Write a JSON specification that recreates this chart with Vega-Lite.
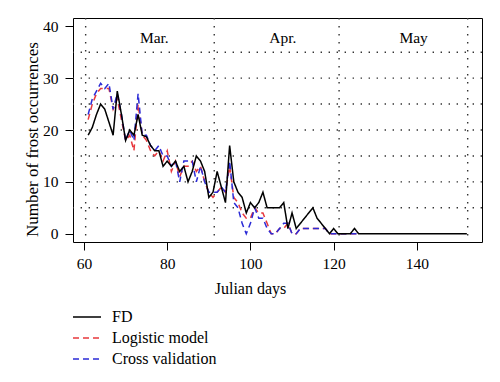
{
  "$schema": "https://vega.github.io/schema/vega-lite/v6.json",
  "width": 409,
  "height": 224,
  "autosize": "none",
  "padding": {"left": 73, "top": 18, "right": 18, "bottom": 140},
  "background": "white",
  "config": {
    "font": "Liberation Serif",
    "view": {"stroke": "black", "strokeWidth": 1}
  },
  "datasets": {
    "frost": [
      {"day": 61, "FD": 19, "Logistic model": 22, "Cross validation": 23},
      {"day": 62, "FD": 20.5, "Logistic model": 25, "Cross validation": 26},
      {"day": 63, "FD": 23, "Logistic model": 27, "Cross validation": 27.5},
      {"day": 64, "FD": 25, "Logistic model": 28, "Cross validation": 29},
      {"day": 65, "FD": 24, "Logistic model": 28, "Cross validation": 28},
      {"day": 66, "FD": 21.5, "Logistic model": 28, "Cross validation": 29},
      {"day": 67, "FD": 19, "Logistic model": 24, "Cross validation": 24},
      {"day": 68, "FD": 27.5, "Logistic model": 26, "Cross validation": 27},
      {"day": 69, "FD": 23, "Logistic model": 22, "Cross validation": 23},
      {"day": 70, "FD": 18, "Logistic model": 18, "Cross validation": 18},
      {"day": 71, "FD": 20, "Logistic model": 19, "Cross validation": 20},
      {"day": 72, "FD": 19, "Logistic model": 16, "Cross validation": 18},
      {"day": 73, "FD": 23, "Logistic model": 25, "Cross validation": 27},
      {"day": 74, "FD": 19, "Logistic model": 19, "Cross validation": 19},
      {"day": 75, "FD": 18.7, "Logistic model": 18, "Cross validation": 19},
      {"day": 76, "FD": 17, "Logistic model": 16, "Cross validation": 17},
      {"day": 77, "FD": 16, "Logistic model": 15, "Cross validation": 16},
      {"day": 78, "FD": 16, "Logistic model": 16, "Cross validation": 17},
      {"day": 79, "FD": 13, "Logistic model": 14, "Cross validation": 15},
      {"day": 80, "FD": 14, "Logistic model": 16, "Cross validation": 15},
      {"day": 81, "FD": 13, "Logistic model": 12, "Cross validation": 13},
      {"day": 82, "FD": 14, "Logistic model": 14, "Cross validation": 14},
      {"day": 83, "FD": 12, "Logistic model": 11, "Cross validation": 10},
      {"day": 84, "FD": 13, "Logistic model": 13, "Cross validation": 14},
      {"day": 85, "FD": 10, "Logistic model": 13, "Cross validation": 14},
      {"day": 86, "FD": 12, "Logistic model": 14, "Cross validation": 14},
      {"day": 87, "FD": 15, "Logistic model": 12, "Cross validation": 10},
      {"day": 88, "FD": 14, "Logistic model": 13, "Cross validation": 13},
      {"day": 89, "FD": 12, "Logistic model": 10, "Cross validation": 10},
      {"day": 90, "FD": 7, "Logistic model": 8, "Cross validation": 8},
      {"day": 91, "FD": 8, "Logistic model": 7, "Cross validation": 8},
      {"day": 92, "FD": 12, "Logistic model": 8, "Cross validation": 8},
      {"day": 93, "FD": 9, "Logistic model": 9, "Cross validation": 9},
      {"day": 94, "FD": 6, "Logistic model": 8, "Cross validation": 8},
      {"day": 95, "FD": 17, "Logistic model": 13, "Cross validation": 14},
      {"day": 96, "FD": 10, "Logistic model": 7, "Cross validation": 6},
      {"day": 97, "FD": 8, "Logistic model": 6, "Cross validation": 5},
      {"day": 98, "FD": 7, "Logistic model": 4, "Cross validation": 2},
      {"day": 99, "FD": 4, "Logistic model": 3, "Cross validation": 0},
      {"day": 100, "FD": 6, "Logistic model": 3, "Cross validation": 2},
      {"day": 101, "FD": 5, "Logistic model": 5, "Cross validation": 5},
      {"day": 102, "FD": 6, "Logistic model": 4, "Cross validation": 3},
      {"day": 103, "FD": 8, "Logistic model": 4, "Cross validation": 3},
      {"day": 104, "FD": 5, "Logistic model": 2, "Cross validation": 1},
      {"day": 105, "FD": 5, "Logistic model": 0, "Cross validation": 0},
      {"day": 106, "FD": 5, "Logistic model": 0, "Cross validation": 0},
      {"day": 107, "FD": 5, "Logistic model": 1, "Cross validation": 1},
      {"day": 108, "FD": 6, "Logistic model": 1, "Cross validation": 2},
      {"day": 109, "FD": 1, "Logistic model": 2, "Cross validation": 2},
      {"day": 110, "FD": 4, "Logistic model": 0, "Cross validation": 0},
      {"day": 111, "FD": 1, "Logistic model": 0, "Cross validation": 0},
      {"day": 112, "FD": 2, "Logistic model": 1, "Cross validation": 1},
      {"day": 113, "FD": 3, "Logistic model": 1, "Cross validation": 1},
      {"day": 114, "FD": 4, "Logistic model": 1, "Cross validation": 1},
      {"day": 115, "FD": 5, "Logistic model": 1, "Cross validation": 1},
      {"day": 116, "FD": 3, "Logistic model": 1, "Cross validation": 1},
      {"day": 117, "FD": 2, "Logistic model": 1, "Cross validation": 1},
      {"day": 118, "FD": 1, "Logistic model": 1, "Cross validation": 1},
      {"day": 119, "FD": 0, "Logistic model": 0, "Cross validation": 0},
      {"day": 120, "FD": 1, "Logistic model": 0, "Cross validation": 0},
      {"day": 121, "FD": 0, "Logistic model": 0, "Cross validation": 0},
      {"day": 124, "FD": 0, "Logistic model": 0, "Cross validation": 0},
      {"day": 125, "FD": 1, "Logistic model": 0, "Cross validation": 0},
      {"day": 126, "FD": 0, "Logistic model": 0, "Cross validation": 0},
      {"day": 152, "FD": 0}
    ],
    "hgrid": [{"value": 5}, {"value": 10}, {"value": 15}, {"value": 20}, {"value": 25}, {"value": 30}, {"value": 35}],
    "months": [{"day": 60.4}, {"day": 91.3}, {"day": 121.3}, {"day": 152.2}],
    "labels": [
      {"month": "Mar.", "day": 76.9, "value": 37.8},
      {"month": "Apr.", "day": 107.8, "value": 37.8},
      {"month": "May", "day": 139.2, "value": 37.8}
    ]
  },
  "layer": [
    {
      "data": {"name": "hgrid"},
      "mark": {"type": "rule", "color": "#333333", "strokeWidth": 1.4, "strokeDash": [1.4, 6.6]},
      "encoding": {
        "y": {"field": "value", "type": "quantitative"}
      }
    },
    {
      "data": {"name": "months"},
      "mark": {"type": "rule", "color": "#333333", "strokeWidth": 1.4, "strokeDash": [1.4, 6.6]},
      "encoding": {
        "x": {"field": "day", "type": "quantitative"}
      }
    },
    {
      "data": {"name": "labels"},
      "mark": {"type": "text", "font": "Liberation Serif", "fontSize": 15.5, "color": "black", "baseline": "middle", "align": "center"},
      "encoding": {
        "x": {"field": "day", "type": "quantitative"},
        "y": {"field": "value", "type": "quantitative"},
        "text": {"field": "month"}
      }
    },
    {
      "data": {"name": "frost"},
      "transform": [
        {"fold": ["FD", "Logistic model", "Cross validation"], "as": ["series", "value"]},
        {"filter": "datum.value != null"},
        {"filter": "datum.series == 'Logistic model'"}
      ],
      "mark": {"type": "line", "strokeWidth": 1.5},
      "encoding": {
        "x": {"field": "day", "type": "quantitative"},
        "y": {"field": "value", "type": "quantitative"},
        "color": {"field": "series", "type": "nominal"},
        "strokeDash": {"field": "series", "type": "nominal"}
      }
    },
    {
      "data": {"name": "frost"},
      "transform": [
        {"fold": ["FD", "Logistic model", "Cross validation"], "as": ["series", "value"]},
        {"filter": "datum.value != null"},
        {"filter": "datum.series == 'Cross validation'"}
      ],
      "mark": {"type": "line", "strokeWidth": 1.5},
      "encoding": {
        "x": {"field": "day", "type": "quantitative"},
        "y": {"field": "value", "type": "quantitative"},
        "color": {"field": "series", "type": "nominal"},
        "strokeDash": {"field": "series", "type": "nominal"}
      }
    },
    {
      "data": {"name": "frost"},
      "transform": [
        {"fold": ["FD", "Logistic model", "Cross validation"], "as": ["series", "value"]},
        {"filter": "datum.value != null"},
        {"filter": "datum.series == 'FD'"}
      ],
      "mark": {"type": "line", "strokeWidth": 1.5},
      "encoding": {
        "x": {
          "field": "day", "type": "quantitative",
          "scale": {"domain": [57.36, 155.64], "nice": false, "zero": false},
          "axis": {
            "values": [60, 80, 100, 120, 140],
            "title": "Julian days", "titleFontSize": 16, "titleFontWeight": "normal", "titleColor": "black",
            "titleX": 177, "titleY": 51, "titleBaseline": "alphabetic",
            "labelFontSize": 15.5, "labelColor": "black", "labelPadding": 6,
            "tickSize": 8, "tickColor": "black", "domain": false, "grid": false
          }
        },
        "y": {
          "field": "value", "type": "quantitative",
          "scale": {"domain": [-1.6, 41.6], "nice": false, "zero": false},
          "axis": {
            "values": [0, 10, 20, 30, 40],
            "title": "Number of frost occurrences", "titleFontSize": 17, "titleFontWeight": "normal", "titleColor": "black",
            "titleX": -36, "titleY": 121, "titleBaseline": "alphabetic",
            "labelFontSize": 15.5, "labelColor": "black", "labelPadding": 7,
            "tickSize": 8, "tickColor": "black", "domain": false, "grid": false
          }
        },
        "color": {
          "field": "series", "type": "nominal",
          "scale": {"domain": ["FD", "Logistic model", "Cross validation"], "range": ["#000000", "#e8383d", "#2b2bd6"]},
          "legend": {
            "title": null, "orient": "none", "legendX": -1, "legendY": 288.5,
            "symbolType": "stroke", "symbolSize": 784, "symbolStrokeWidth": 1.5,
            "labelFontSize": 16, "labelFont": "Liberation Serif", "labelColor": "black", "labelOffset": 10,
            "clipHeight": 21, "rowPadding": 0, "padding": 0
          }
        },
        "strokeDash": {
          "field": "series", "type": "nominal",
          "scale": {"domain": ["FD", "Logistic model", "Cross validation"], "range": [[1, 0], [6, 4], [6, 4]]},
          "legend": {
            "title": null, "orient": "none", "legendX": -1, "legendY": 288.5,
            "symbolType": "stroke", "symbolSize": 784, "symbolStrokeWidth": 1.5,
            "labelFontSize": 16, "labelFont": "Liberation Serif", "labelColor": "black", "labelOffset": 10,
            "clipHeight": 21, "rowPadding": 0, "padding": 0
          }
        }
      }
    }
  ]
}
